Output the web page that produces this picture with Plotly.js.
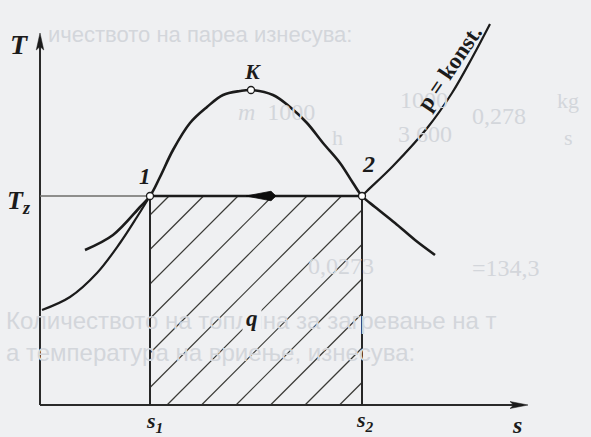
<!DOCTYPE html>
<html><head><meta charset="utf-8">
<script src="https://cdn.plot.ly/plotly-3.0.1.min.js"></script>
<style>html,body{margin:0;padding:0;background:#eff0f2;}#chart{width:591px;height:437px;}</style>
</head><body><div id="chart"></div>
<script>
// T-s diagram, schematic units: entropy s (x), temperature T (y)
const satCurveS = [9, 14.6, 20, 22, 24, 26.6, 30, 33.4, 36.6, 40, 42.2, 46.6, 50, 53.4, 56.6, 60, 62.6, 64.4, 67, 71, 75, 79];
const satCurveT = [31, 34, 39.6, 41.8, 45.6, 51, 56.4, 59.6, 62, 62.8, 63, 62, 59.6, 56.4, 52.4, 48.4, 44.4, 41.8, 39.6, 36.4, 33, 30];
const isobarLeftS = [0.4, 6, 11.4, 16, 19.4, 22];
const isobarLeftT = [19, 21.6, 26.4, 32.4, 37.6, 41.8];
const isobarRightS = [64.4, 65.4, 70.6, 77.6, 82.4, 86.4, 90];
const isobarRightT = [41.8, 42.8, 47.8, 55.6, 62.4, 69.4, 76.2];
const stateNames = ['1', 'K', '2'];
const stateS = [22, 42.2, 64.4];
const stateT = [41.8, 63, 41.8];
const s1 = 22, s2 = 64.4, Tz = 41.8;
const sAxisEnd = 97.6, TAxisEnd = 74.4;
const hatchOffsets = [-16, -9.1, -2.2, 4.7, 11.6, 18.5, 25.4, 32.3, 39.2, 46.1, 53, 59.9];
const axisLabels = {T: 'T', Tz: 'T<sub>z</sub>', s: 's', s1: 's<sub>1</sub>', s2: 's<sub>2</sub>', q: 'q', isobar: 'p = konst.'};

const INK = '#1b1b1b';
const traces = [];

// hatching of area q between s1 and s2 under Tz
const hx = [], hy = [];
hatchOffsets.forEach(d => {
  const a = Math.max(s1, d), b = Math.min(s2, d + Tz);
  if (b > a) { hx.push(a, b, null); hy.push(a - d, b - d, null); }
});
traces.push({x: hx, y: hy, mode: 'lines', line: {color: '#3a3a36', width: 1.2}, hoverinfo: 'skip'});

// axes
traces.push({x: [0, 0, null, 0, sAxisEnd - 1], y: [TAxisEnd - 1, 0, null, 0, 0], mode: 'lines', line: {color: '#2a2a2a', width: 2}, hoverinfo: 'skip'});
// s1, s2 verticals
traces.push({x: [s1, s1, null, s2, s2], y: [0, Tz, null, 0, Tz], mode: 'lines', line: {color: '#262626', width: 2}, hoverinfo: 'skip'});
// Tz reference line
traces.push({x: [0, s1], y: [Tz, Tz], mode: 'lines', line: {color: '#6e6e6a', width: 1.6}, hoverinfo: 'skip'});
// isobar p = konst
traces.push({x: isobarLeftS, y: isobarLeftT, mode: 'lines', line: {color: INK, width: 2.2, shape: 'spline'}, hoverinfo: 'skip'});
traces.push({x: [s1, s2], y: [Tz, Tz], mode: 'lines', line: {color: INK, width: 2.6}, hoverinfo: 'skip'});
traces.push({x: isobarRightS, y: isobarRightT, mode: 'lines', line: {color: INK, width: 2.2, shape: 'spline'}, hoverinfo: 'skip'});
// saturation curve
traces.push({x: satCurveS, y: satCurveT, mode: 'lines', line: {color: INK, width: 2.6, shape: 'spline'}, hoverinfo: 'skip'});

// arrowheads
function head(tipS, tipT, ds, dt, len, half, back) {
  const ps = -dt, pt = ds;
  const bs = tipS - ds * len, bt = tipT - dt * len;
  const ms = tipS - ds * len * back, mt = tipT - dt * len * back;
  return {x: [tipS, bs + ps * half, ms, bs - ps * half, tipS], y: [tipT, bt + pt * half, mt, bt - pt * half, tipT],
    mode: 'lines', fill: 'toself', fillcolor: INK, line: {color: INK, width: 0.5}, hoverinfo: 'skip'};
}
traces.push(head(0, TAxisEnd, 0, 1, 3.4, 0.75, 0.8));
traces.push(head(sAxisEnd, 0, 1, 0, 3.6, 0.7, 0.8));
// flow arrow on Tz line (elongated wedge, blunt at the front)
(function(){
  const tip = 47.2, wide = 46.2, tail = 41.2;
  traces.push({x: [tip, wide, tail, wide, tip], y: [Tz, Tz + 0.95, Tz, Tz - 0.95, Tz], mode: 'lines', fill: 'toself',
    fillcolor: '#0d0d0d', line: {color: '#0d0d0d', width: 0.8}, hoverinfo: 'skip'});
})();

// state points
traces.push({x: stateS, y: stateT, text: stateNames, mode: 'markers', marker: {symbol: 'circle', size: 7, color: '#ffffff', line: {color: INK, width: 1.3}}, hoverinfo: 'text'});

const serif = 'Liberation Serif, Times New Roman, serif';
function lab(text, x, y, size, extra) {
  return Object.assign({x: x, y: y, xref: 'x', yref: 'y', text: '<b><i>' + text + '</i></b>', showarrow: false,
    font: {family: serif, size: size, color: INK}}, extra || {});
}
const faint = '#d3d6db';
function ghost(text, px, py, size, fam, extra) {
  return Object.assign({x: px / 591, y: 1 - py / 437, xref: 'paper', yref: 'paper', xanchor: 'left', yanchor: 'middle',
    text: text, showarrow: false, font: {family: fam || 'Liberation Sans, Arial, sans-serif', size: size, color: faint}}, extra || {});
}

const annotations = [
  // faint bleed-through text of the scanned page
  ghost('ичеството на пареа изнесува:', 46, 35, 22),
  ghost('<i>m</i>  1000', 236, 112, 24, serif),
  ghost('1000', 398, 100, 24, serif),
  ghost('3 600', 396, 134, 24, serif),
  ghost('0,278', 470, 116, 24, serif),
  ghost('kg', 555, 100, 22, serif),
  ghost('s', 562, 137, 22, serif),
  ghost('h', 330, 137, 22, serif),
  ghost('0,0273', 306, 266, 24, serif),
  ghost('=134,3', 470, 268, 24, serif),
  ghost('Количеството на топлина за загревање на т', 4, 320, 24),
  ghost('а температура на вриење, изнесува:', 4, 352, 24),
  // diagram labels
  lab(axisLabels.T, -4.2, 72.2, 28),
  lab(axisLabels.Tz, -4.4, 40.6, 26),
  lab(stateNames[0], 21.0, 45.8, 23),
  lab(stateNames[1], 42.4, 66.8, 22),
  lab(stateNames[2], 65.6, 48.2, 24),
  lab(axisLabels.q, 42.4, 17.4, 23, {bgcolor: '#eff0f2', borderpad: 3}),
  lab(axisLabels.s1, 22.8, -3.4, 22),
  lab(axisLabels.s2, 65.0, -3.2, 22),
  lab(axisLabels.s, 95.4, -3.9, 24),
  {x: 81.8, y: 67.4, xref: 'x', yref: 'y', text: '<b>' + axisLabels.isobar + '</b>', showarrow: false, textangle: -56,
    font: {family: serif, size: 23, color: INK}}
];

const layout = {
  width: 591, height: 437, autosize: false,
  margin: {l: 0, r: 0, t: 0, b: 0, pad: 0},
  paper_bgcolor: '#eff0f2', plot_bgcolor: '#eff0f2',
  showlegend: false,
  xaxis: {range: [-8, 110.2], visible: false, fixedrange: true},
  yaxis: {range: [-6.4, 81], visible: false, fixedrange: true},
  annotations: annotations
};
Plotly.newPlot('chart', traces, layout, {displayModeBar: false, staticPlot: true});
</script>
</body></html>
